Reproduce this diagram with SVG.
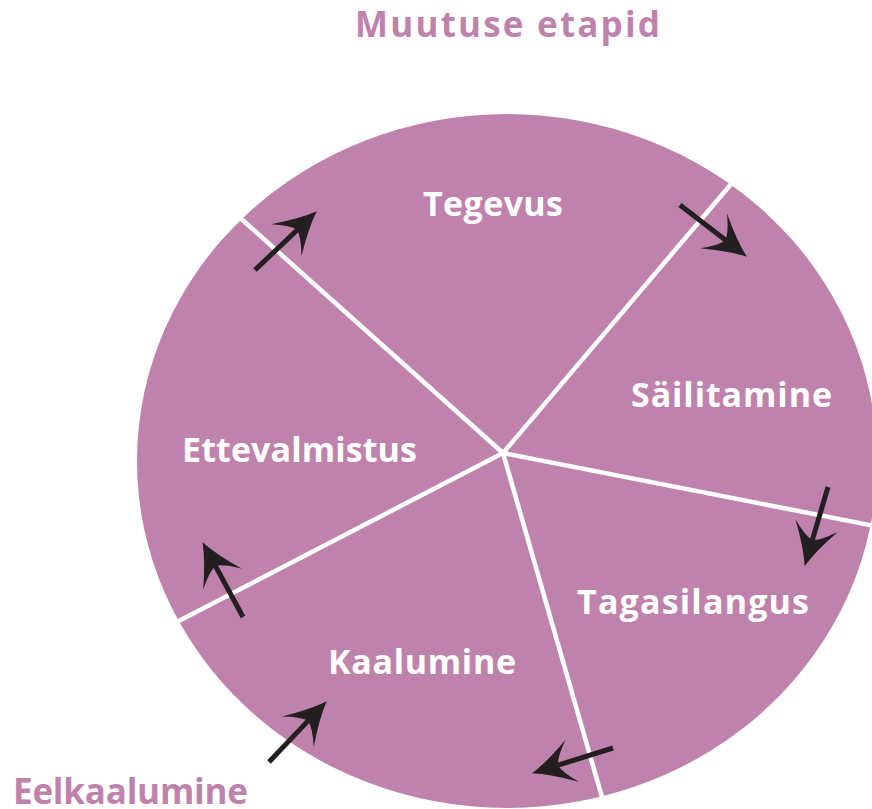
<svg xmlns="http://www.w3.org/2000/svg" width="872" height="809" viewBox="0 0 872 809">
<style>
.lbl{font-family:"Open Sans",Lato,"Liberation Sans",sans-serif;font-weight:bold;font-size:34px;fill:#ffffff;text-anchor:middle}
.ttl{font-family:"Open Sans",Lato,"Liberation Sans",sans-serif;font-weight:bold;font-size:35px;fill:#BF82AD}
.spoke{stroke:#ffffff;stroke-width:4.5;fill:none}
.arr{stroke:#231F20;stroke-width:5;fill:none;marker-end:url(#head)}
</style>
<defs>
<marker id="head" markerUnits="userSpaceOnUse" markerWidth="60" markerHeight="60" refX="4" refY="0" viewBox="-20 -30 60 60" orient="auto" overflow="visible">
<path d="M27,0 Q10,-6 -15,-22 Q-2,-8 0,0 Q-2,8 -15,22 Q10,6 27,0 Z" fill="#231F20"/>
</marker>
</defs>
<rect width="872" height="809" fill="#ffffff"/>
<g id="wheel">
<ellipse cx="507" cy="461" rx="370" ry="347" fill="#BF82AD"/>
</g>
<g id="spokes">
<line class="spoke" x1="503" y1="453" x2="238" y2="216"/>
<line class="spoke" x1="503" y1="453" x2="732" y2="183"/>
<line class="spoke" x1="503" y1="453" x2="880" y2="527"/>
<line class="spoke" x1="503" y1="453" x2="604" y2="804"/>
<line class="spoke" x1="503" y1="453" x2="175" y2="623"/>
</g>
<g id="title"><text class="ttl" x="507.5" y="37" text-anchor="middle" textLength="305" lengthAdjust="spacing">Muutuse etapid</text></g>
<g id="tegevus"><text class="lbl" x="493" y="216" textLength="140" lengthAdjust="spacing">Tegevus</text></g>
<g id="sailitamine"><text class="lbl" x="731.5" y="407" textLength="201" lengthAdjust="spacing">Säilitamine</text></g>
<g id="tagasilangus"><text class="lbl" x="693" y="614" textLength="232" lengthAdjust="spacing">Tagasilangus</text></g>
<g id="kaalumine"><text class="lbl" x="422" y="674" textLength="188" lengthAdjust="spacing">Kaalumine</text></g>
<g id="ettevalmistus"><text class="lbl" x="299.5" y="462" textLength="235" lengthAdjust="spacing">Ettevalmistus</text></g>
<g id="eelkaalumine"><text class="ttl" x="13" y="804" textLength="235" lengthAdjust="spacing">Eelkaalumine</text></g>
<g id="connectors">
<line class="arr" x1="255" y1="270" x2="300.1" y2="227.2"/>
<line class="arr" x1="680" y1="205" x2="728.6" y2="242.6"/>
<line class="arr" x1="828" y1="487" x2="811.2" y2="543.9"/>
<line class="arr" x1="613" y1="748" x2="554" y2="766.4"/>
<line class="arr" x1="269" y1="762" x2="310.9" y2="717.9"/>
<line class="arr" x1="243" y1="617" x2="213.5" y2="562.4"/>
</g>
</svg>
